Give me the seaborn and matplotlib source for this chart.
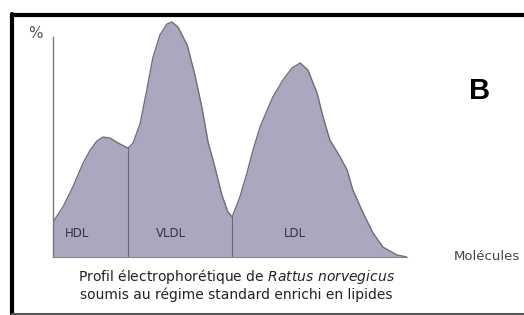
import matplotlib
matplotlib.use("Agg")
import matplotlib.pyplot as plt
import seaborn as sns
import pandas as pd
from matplotlib.lines import Line2D

# Profil electrophoretique (migration en unites arbitraires, hauteur en %)
migration = [0, 2.8, 5.6, 8.5, 10.5, 12.4, 14.1, 16.1, 18.4, 21.2,
             22.6, 24.6, 26.6, 28.2, 30.2, 32.2, 33.6, 35.3, 37.9, 40.1,
             42.1, 43.8, 45.8, 47.7, 49.4, 50.6, 52.8, 54.8, 56.5, 58.5,
             60.5, 62.1, 65.0, 67.5, 69.8, 72.0, 74.6, 76.3, 78.2, 81.1,
             83.1, 84.7, 87.6, 90.4, 93.2, 97.2, 100]
hauteur = [15.9, 22.7, 31.8, 42.7, 48.6, 52.7, 54.5, 54.1, 51.8, 49.5,
           51.8, 60.5, 76.8, 90.5, 100.9, 105.9, 106.8, 104.5, 96.4, 82.7,
           67.7, 52.3, 40.5, 28.2, 20.5, 18.2, 27.3, 38.2, 48.6, 59.1,
           66.8, 72.7, 80.5, 85.9, 88.2, 85.0, 74.5, 63.6, 53.2, 45.5,
           39.5, 30.5, 20.0, 10.9, 4.5, 0.9, 0]

fractions = ["HDL", "VLDL", "LDL"]
fraction_pos = [6.9, 33.3, 68.4]
limites = [21.2, 50.6]

df = pd.DataFrame({"migration": migration, "hauteur": hauteur})

sns.set_style("white")
fig = plt.figure(figsize=(5.24, 3.15), dpi=100)
ax = fig.add_axes([53 / 524, 58 / 315, 354 / 524, 242 / 315])

fill_col = "#aaa7be"
edge_col = "#6f6d7a"
ax.fill_between(df["migration"], 0, df["hauteur"], color=fill_col, lw=0)
sns.lineplot(data=df, x="migration", y="hauteur", ax=ax, color=edge_col, lw=1.0)

# separations entre fractions
for xl in limites:
    yl = df.loc[(df["migration"] - xl).abs().idxmin(), "hauteur"]
    ax.plot([xl, xl], [0, yl], color="#6a6878", lw=0.8)

for name, xp in zip(fractions, fraction_pos):
    ax.text(xp, 10.5, name, ha="center", va="center", fontsize=8.5,
            color="#33334a")

ax.set_xlim(0, 100)
ax.set_ylim(0, 110)
ax.set_xticks([])
ax.set_yticks([])
ax.set_xlabel("")
ax.set_ylabel("")
for s in ["top", "right"]:
    ax.spines[s].set_visible(False)
ax.spines["left"].set_bounds(0, 100)
ax.spines["left"].set_color("#777777")
ax.spines["left"].set_linewidth(1.0)
ax.spines["bottom"].set_color("#8a8894")
ax.spines["bottom"].set_linewidth(0.8)
ax.patch.set_alpha(0)

# cadre
fig.add_artist(Line2D([12 / 524, 1], [1 - 15 / 315] * 2, color="black", lw=3))
fig.add_artist(Line2D([12 / 524] * 2, [1 - 14 / 315, 1 - 314 / 315], color="black", lw=3))
fig.add_artist(Line2D([12 / 524, 1], [1 - 313.5 / 315] * 2, color="#555555", lw=1.5))

fig.text(35 / 524, 1 - 34 / 315, "%", ha="center", va="center", fontsize=11,
         color="#555555")
fig.text(480 / 524, 1 - 91 / 315, "B", ha="center", va="center", fontsize=21,
         fontweight="bold", color="black", family="Liberation Sans")
fig.text(487 / 524, 1 - 257 / 315, "Molécules", ha="center", va="center",
         fontsize=9.5, color="#444444")
fig.text(236 / 524, 1 - 277 / 315,
         "Profil électrophorétique de $\\it{Rattus\\ norvegicus}$",
         ha="center", va="center", fontsize=10, color="#222222")
fig.text(236 / 524, 1 - 295 / 315, "soumis au régime standard enrichi en lipides",
         ha="center", va="center", fontsize=10, color="#222222")

fig.savefig("out.png", dpi=100)
